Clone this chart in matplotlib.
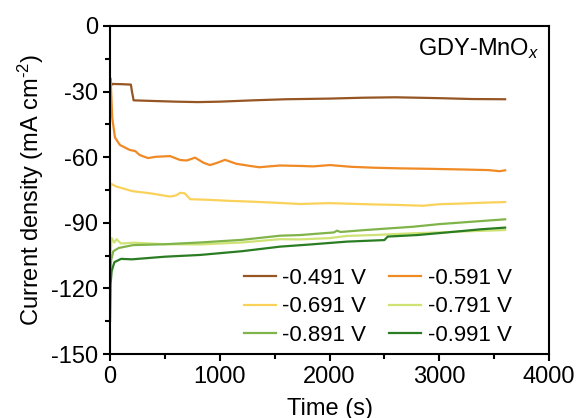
import matplotlib
matplotlib.use("Agg")
import matplotlib.pyplot as plt
from matplotlib.ticker import MultipleLocator

plt.rcParams["font.family"] = ["Liberation Sans", "DejaVu Sans"]
plt.rcParams["mathtext.fontset"] = "custom"
plt.rcParams["mathtext.rm"] = "Liberation Sans"
plt.rcParams["mathtext.it"] = "Liberation Sans:italic"
plt.rcParams["axes.unicode_minus"] = False

# Chronoamperometry traces, current density (mA cm^-2) vs time (s)
t_491 = [0, 20, 100, 190, 200, 215, 400, 600, 800, 1000, 1300, 1600, 2000, 2300, 2600, 3000, 3300, 3600]
j_491 = [-28.0, -26.5, -26.6, -26.8, -30.0, -34.0, -34.3, -34.6, -34.8, -34.6, -34.0, -33.5, -33.2, -32.8, -32.6, -33.0, -33.4, -33.5]

t_591 = [0, 5, 12, 20, 45, 90, 180, 230, 270, 346, 420, 547, 640, 700, 775, 850, 911, 980, 1048, 1150,
         1276, 1360, 1450, 1549, 1731, 1850, 2005, 2200, 2400, 2642, 2900, 3200, 3450, 3550, 3600]
j_591 = [-40.0, -24.0, -32.0, -42.0, -51.0, -54.4, -56.7, -57.2, -59.0, -60.4, -59.8, -59.5, -61.3, -61.5, -60.2, -62.5,
         -63.6, -62.5, -61.2, -63.0, -64.0, -64.6, -64.2, -63.8, -64.0, -64.2, -63.6, -64.4, -64.8, -65.1, -65.3, -65.6, -65.9, -66.4, -66.0]

t_691 = [0, 3, 60, 100, 200, 364, 547, 600, 640, 680, 730, 900, 1100, 1276, 1500, 1731, 2000, 2200, 2400, 2600, 2850, 3000, 3200, 3400, 3600]
j_691 = [-85.0, -72.0, -73.5, -74.0, -75.5, -76.5, -78.0, -77.5, -76.3, -76.5, -79.2, -79.5, -80.0, -80.3, -80.8, -81.4,
         -81.0, -81.3, -81.6, -81.8, -82.2, -81.5, -81.2, -80.8, -80.5]

t_791 = [0, 15, 40, 60, 100, 210, 500, 820, 1200, 1549, 1731, 2000, 2160, 2400, 2760, 3000, 3300, 3600]
j_791 = [-108.0, -97.0, -99.0, -97.5, -99.5, -99.1, -99.8, -99.9, -99.0, -97.5, -97.6, -97.0, -96.0, -95.6, -94.8, -94.4, -93.8, -93.3]

t_891 = [0, 10, 30, 80, 210, 500, 820, 1200, 1549, 1731, 2040, 2068, 2100, 2300, 2760, 3000, 3300, 3600]
j_891 = [-115.0, -107.0, -103.0, -101.5, -100.2, -99.8, -99.0, -97.8, -95.9, -95.6, -94.4, -93.6, -94.2, -93.4, -91.8, -90.6, -89.5, -88.4]

t_991 = [0, 5, 15, 40, 100, 200, 500, 820, 1200, 1549, 1800, 2160, 2500, 2530, 2800, 3070, 3371, 3600]
j_991 = [-135.0, -118.0, -112.0, -108.0, -106.5, -106.7, -105.5, -104.7, -103.0, -100.9, -100.0, -98.6, -97.9, -96.3, -95.6, -94.4, -93.0, -92.2]

labels = ["-0.491 V", "-0.591 V", "-0.691 V", "-0.791 V", "-0.891 V", "-0.991 V"]
colors = ["#965523", "#F08A24", "#FAD25A", "#CFE375", "#80B44A", "#2A7D22"]
series = [(t_491, j_491), (t_591, j_591), (t_691, j_691), (t_791, j_791), (t_891, j_891), (t_991, j_991)]

fig = plt.figure(figsize=(5.8, 4.18), dpi=100)
ax = fig.add_axes([0.1897, 0.1531, 0.7569, 0.7847])

lines = []
for (t, j), lab, c in zip(series, labels, colors):
    ln, = ax.plot(t, j, color=c, lw=1.6, label=lab)
    lines.append(ln)

ax.set_xlim(0, 4000)
ax.set_ylim(-150, 0)
ax.xaxis.set_major_locator(MultipleLocator(1000))
ax.xaxis.set_minor_locator(MultipleLocator(500))
ax.yaxis.set_major_locator(MultipleLocator(30))
ax.yaxis.set_minor_locator(MultipleLocator(15))

for s in ax.spines.values():
    s.set_linewidth(1.5)
ax.tick_params(which="major", direction="out", length=5, width=1.5, labelsize=17)
ax.tick_params(which="minor", direction="out", length=3.5, width=1.5)

ax.set_xlabel("Time (s)", fontsize=17, labelpad=7)
ax.set_ylabel(r"Current density (mA cm$^{\text{-2}}$)", fontsize=17, labelpad=4)

ax.text(0.978, 0.93, "GDY-MnO$_{x}$", transform=ax.transAxes, ha="right", va="center", fontsize=17)

# legend filled row by row: 0.491/0.591, 0.691/0.791, 0.891/0.991
order = [0, 2, 4, 1, 3, 5]
ax.legend([lines[i] for i in order], [labels[i] for i in order], ncol=2, loc="lower right",
          bbox_to_anchor=(0.945, -0.017), frameon=False, fontsize=16,
          handlelength=1.45, handletextpad=0.3, columnspacing=1.0, labelspacing=0.35,
          borderaxespad=0.2)

fig.savefig("out.png", dpi=100)
